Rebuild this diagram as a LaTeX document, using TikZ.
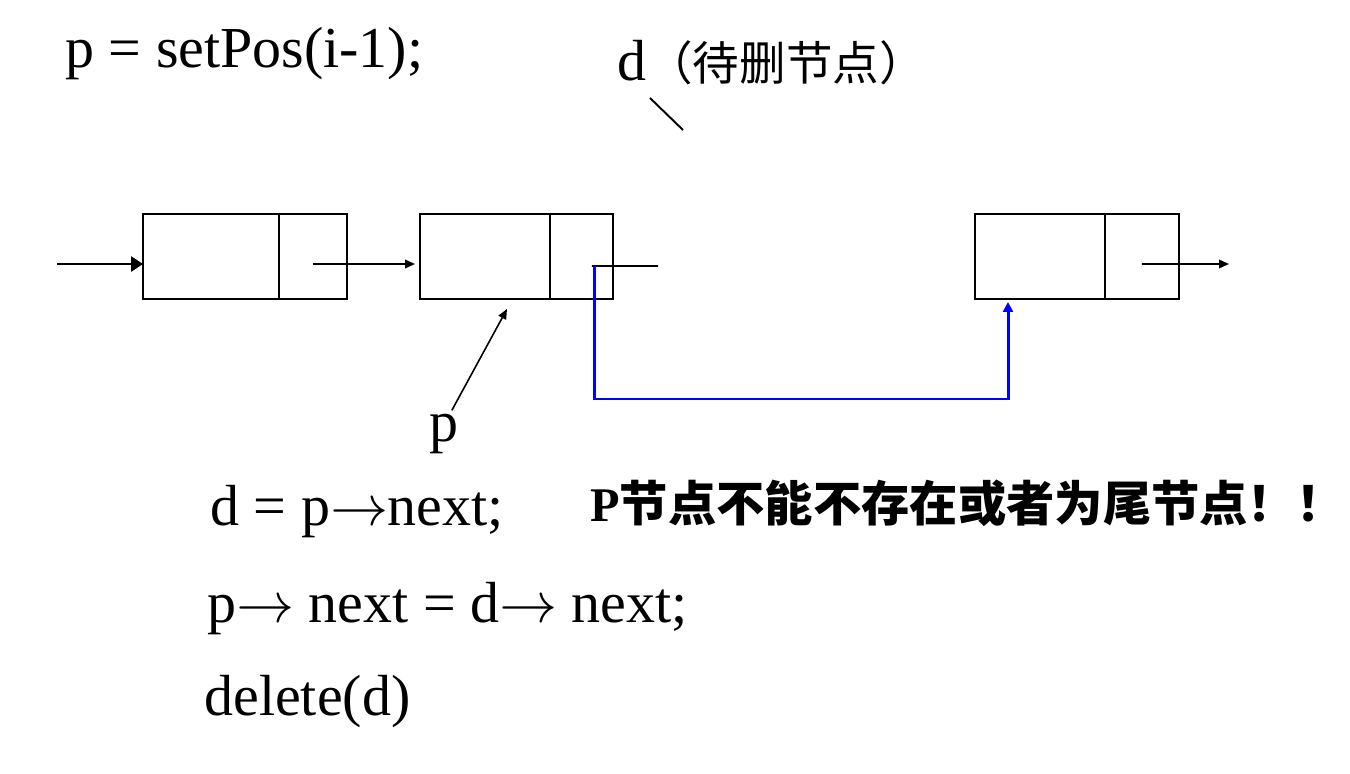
\documentclass[tikz,border=0pt]{standalone}
\usepackage{fontspec}
\usepackage{unicode-math}
\setmainfont{Liberation Serif}
\setmathfont{Latin Modern Math}
\newfontfamily\cjk{Noto Sans CJK SC}
\usetikzlibrary{positioning,arrows.meta}

\begin{document}
\begin{tikzpicture}[x=0.02cm,y=-0.02cm,font=\fontsize{33}{38}\selectfont,
  datafld/.style={draw,line width=1.1pt,minimum height=1.7cm,minimum width=2.6cm,inner sep=0pt,outer sep=0pt},
  ptrfld/.style={datafld,minimum width=1.3cm},
  code/.style={anchor=base west,inner sep=0pt},
  link/.style={line width=1.1pt,-{Triangle[length=0.2cm,width=0.17cm]}},
  blueptr/.style={draw=blue,line width=1.7pt,-{Triangle[length=0.2cm,width=0.2cm]}}]
\useasboundingbox (0,0) rectangle (1350,774);
% linked list nodes
\node[datafld,minimum width=2.72cm] (n1d) at (211,256.5) {};
\node[ptrfld,minimum width=1.36cm,right=0pt of n1d] (n1p) {};
\node[datafld] (n2d) at (485,256.5) {};
\node[ptrfld,minimum width=1.26cm,right=0pt of n2d] (n2p) {};
\node[datafld] (n3d) at (1040,256.5) {};
\node[ptrfld,minimum width=1.48cm,right=0pt of n3d] (n3p) {};
\coordinate (head) at (57,264);
\coordinate (tail) at (1229,264);
\coordinate (cut) at (658,266);
\coordinate (bend) at (1008,399);
\coordinate (dtop) at (650,98);
\coordinate (dtick) at (683,130);
% texts
\node[code] (setpos) at (65,68) {p = setPos(i-1);};
\node[code] (dlabel) at (617,80) {d\cjk\fontsize{26.5}{30}\selectfont （待删节点）};
\node[code] (plabel) at (429,441) {p};
\node[code] (step1) at (210,525) {d = p$\rightarrow$next;};
\node[code] (warn) at (590,521) {\fontsize{27.5}{34}\selectfont\bfseries P\cjk 节点不能不存在或者为尾节点！！};
\node[code] (step2) at (207,622) {p$\rightarrow$ next = d$\rightarrow$ next;};
\node[code] (step3) at (204,715) {delete(d)};
% connectors
\draw[link,line width=1.6pt,-{Triangle[length=0.24cm,width=0.3cm]}] (head) -- (head -| n1d.west);
\draw[link,shorten >=0.1cm] ([yshift=-0.15cm]n1p.center) -- ([yshift=-0.15cm]n2d.west);
\draw[line width=1.1pt] ([xshift=0.21cm,yshift=-0.19cm]n2p.center) -- (cut);
\draw[link] ([yshift=-0.15cm]n3p.center) -- (tail);
\draw[link,line width=0.9pt] ([xshift=0.16cm,yshift=0.06cm]plabel.north) -- ([xshift=0.44cm,yshift=-0.2cm]n2d.south);
\draw[line width=1.1pt] (dtop) -- (dtick);
\draw[blueptr] ([xshift=0.27cm,yshift=-0.19cm]n2p.center) |- (bend) -- ([yshift=-0.06cm]n3d.south -| bend);
\end{tikzpicture}
\end{document}
